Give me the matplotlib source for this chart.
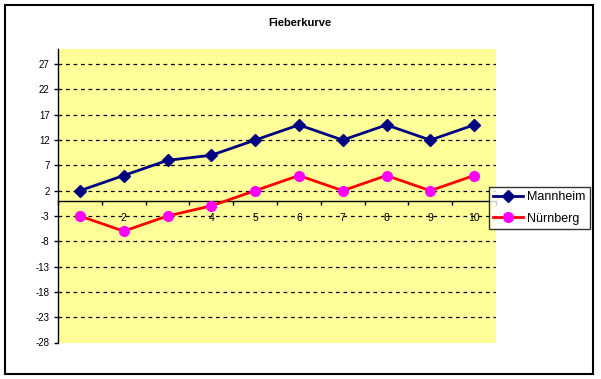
import matplotlib
matplotlib.use("Agg")
import matplotlib.pyplot as plt
from matplotlib.patches import Rectangle
import numpy as np

plt.rcParams['font.family'] = ['Liberation Sans', 'DejaVu Sans']

categories = [1, 2, 3, 4, 5, 6, 7, 8, 9, 10]
mannheim = [2, 5, 8, 9, 12, 15, 12, 15, 12, 15]
nuernberg = [-3, -6, -3, -1, 2, 5, 2, 5, 2, 5]
y_ticks = [-28, -23, -18, -13, -8, -3, 2, 7, 12, 17, 22, 27]

W, H = 601, 379
fig = plt.figure(figsize=(W / 100, H / 100), dpi=100)
ax = fig.add_axes([58 / W, 1 - 342.5 / H, (496 - 58) / W, (342.5 - 49) / H])
ax.set_facecolor('#FFFF99')

# dashed grid lines
for v in y_ticks[1:]:
	ax.axhline(v, color='black', lw=0.9, ls=(0, (3, 3)), zorder=1)

ax.plot(categories, mannheim, color='#000080', lw=2, marker='D', ms=6,
	mfc='#000080', mec='#000080', label='Mannheim', zorder=3)
ax.plot(categories, nuernberg, color='#FF0000', lw=2, marker='o', ms=7,
	mfc='#FF00FF', mec='#FF00FF', label='Nürnberg', zorder=3)

ax.set_xlim(0.5, 10.5)
ax.set_ylim(-28, 30)
ax.set_yticks(y_ticks)
ax.set_yticklabels([str(v) for v in y_ticks])
ax.tick_params(axis='y', length=3, width=1, labelsize=7, pad=3)

for s in ['top', 'right']:
	ax.spines[s].set_visible(False)
ax.spines['bottom'].set_position(('data', 0))
ax.spines['bottom'].set_zorder(2)
ax.spines['left'].set_linewidth(1)
ax.spines['bottom'].set_linewidth(1)

ax.set_xticks(np.arange(0.5, 11, 1))
ax.set_xticklabels([])
ax.tick_params(axis='x', which='major', length=3, width=1, direction='out')
ax.set_xticks(categories, minor=True)
ax.set_xticklabels([str(c) for c in categories], minor=True)
ax.tick_params(axis='x', which='minor', length=0, labelsize=7.5, pad=9)

fig.text(300 / W, 1 - 23 / H, 'Fieberkurve', ha='center', va='center',
	fontsize=8, fontweight='bold')

leg = fig.legend(loc='upper left', bbox_to_anchor=(489 / W, 1 - 187 / H),
	fontsize=9, frameon=True, fancybox=False, borderpad=0.35,
	handlelength=2.4, handletextpad=0.3, borderaxespad=0, labelspacing=0.75)
leg.get_frame().set_edgecolor('black')
leg.get_frame().set_linewidth(1)

fig.patches.append(Rectangle((5 / W, 1 - 374 / H), (593 - 5) / W, (374 - 5) / H,
	transform=fig.transFigure, fill=False, edgecolor='black', lw=1.5))

fig.savefig('out.png', dpi=100)
